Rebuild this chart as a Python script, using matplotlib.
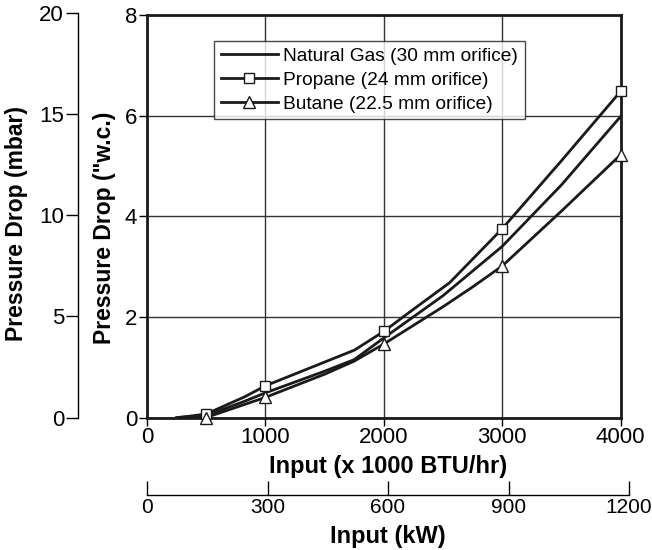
import matplotlib
matplotlib.use("Agg")
import matplotlib.pyplot as plt

plt.rcParams["font.family"] = ["Liberation Sans", "DejaVu Sans"]

# curve data: input (x 1000 BTU/hr) vs pressure drop ("w.c.)
ng_x = [250, 500, 800, 1000, 1500, 1750, 2000, 2500, 3000, 3500, 4000]
ng_y = [0.0, 0.04, 0.30, 0.49, 0.92, 1.15, 1.58, 2.42, 3.4, 4.62, 5.98]

propane_x = [275, 500, 824, 1000, 1753, 2000, 2250, 2557, 3000, 3500, 4000]
propane_y = [0.0, 0.07, 0.41, 0.63, 1.34, 1.71, 2.15, 2.68, 3.75, 5.1, 6.48]

butane_x = [300, 500, 1000, 1500, 1750, 2000, 2500, 2754, 3000, 3500, 4000]
butane_y = [0.0, 0.0, 0.40, 0.86, 1.12, 1.46, 2.2, 2.6, 3.01, 4.1, 5.22]

# marker points
propane_mx = [500, 1000, 2000, 3000, 4000]
propane_my = [0.07, 0.63, 1.71, 3.75, 6.48]
butane_mx = [500, 1000, 2000, 3000, 4000]
butane_my = [0.0, 0.40, 1.46, 3.01, 5.22]

btu_ticks = [0, 1000, 2000, 3000, 4000]
wc_ticks = [0, 2, 4, 6, 8]
mbar_ticks = [0, 5, 10, 15, 20]
kw_ticks = [0, 300, 600, 900, 1200]

W, H = 652, 550
fig = plt.figure(figsize=(W / 100, H / 100), dpi=100)


def fx(px):
    return px / W


def fy(py):
    return 1 - py / H


x0, x1, y0, y1 = 147, 620.5, 417.5, 15
ax = fig.add_axes([fx(x0), fy(y0), fx(x1) - fx(x0), fy(y1) - fy(y0)])

ink = "#1a1a1a"
ax.plot(ng_x, ng_y, color=ink, lw=2.0, label="Natural Gas (30 mm orifice)")
ax.plot(propane_x, propane_y, color=ink, lw=2.0, zorder=3)
ax.plot(propane_mx, propane_my, ls="none", marker="s", ms=7, mfc="white",
        mec=ink, mew=1.0, zorder=4, clip_on=False)
ax.plot(butane_x, butane_y, color=ink, lw=2.0, zorder=3)
ax.plot(butane_mx, butane_my, ls="none", marker="^", ms=8, mfc="white",
        mec=ink, mew=1.0, zorder=4, clip_on=False)

# legend proxies
ax.plot([], [], color=ink, lw=2.0, marker="s", ms=7, mfc="white",
        mec=ink, mew=1.0, label="Propane (24 mm orifice)")
ax.plot([], [], color=ink, lw=2.0, marker="^", ms=8, mfc="white",
        mec=ink, mew=1.0, label="Butane (22.5 mm orifice)")

ax.set_xlim(0, 4000)
ax.set_ylim(0, 8)
ax.set_xticks(btu_ticks)
ax.set_yticks(wc_ticks)
ax.grid(True, color="#333333", lw=1.0)
ax.set_axisbelow(True)
for s in ax.spines.values():
    s.set_linewidth(2.0)
    s.set_color(ink)
ax.tick_params(direction="out", length=6, width=1.0, labelsize=16, pad=1)

leg = ax.legend(loc="upper left",
                bbox_to_anchor=((214 - x0) / (x1 - x0), (y0 - 41) / (y0 - y1)),
                fontsize=13.8, frameon=True, fancybox=False, edgecolor=ink,
                handlelength=3.0, handletextpad=0.25, borderpad=0.35,
                labelspacing=0.33, borderaxespad=0)
leg.get_frame().set_linewidth(1.0)
leg.set_zorder(5)

# outer mbar axis
axm = fig.add_axes([fx(78), fy(y0), 0.001, fy(13) - fy(y0)])
axm.set_ylim(0, 20)
axm.set_yticks(mbar_ticks)
axm.set_xticks([])
for k in ["top", "right", "bottom"]:
    axm.spines[k].set_visible(False)
axm.spines["left"].set_linewidth(1.0)
axm.tick_params(axis="y", direction="out", length=9, width=1.0, labelsize=16, pad=1)
axm.patch.set_visible(False)

# kW axis
kx1 = 629
axk = fig.add_axes([fx(x0), fy(495), fx(kx1) - fx(x0), 0.001])
axk.set_xlim(0, 1200)
axk.set_xticks(kw_ticks)
axk.set_yticks([])
for k in ["top", "right", "left"]:
    axk.spines[k].set_visible(False)
axk.spines["bottom"].set_linewidth(1.0)
axk.tick_params(axis="x", direction="in", length=10, width=1.0, labelsize=15, pad=2)
axk.patch.set_visible(False)

fig.text(fx(388), fy(467), "Input (x 1000 BTU/hr)", fontsize=17, fontweight="bold",
         ha="center", va="center")
fig.text(fx(388), fy(537), "Input (kW)", fontsize=17, fontweight="bold",
         ha="center", va="center")
fig.text(fx(17), fy(223.5), "Pressure Drop (mbar)", fontsize=16.5, fontweight="bold",
         rotation=90, ha="center", va="center")
fig.text(fx(104), fy(228), 'Pressure Drop ("w.c.)', fontsize=16.5, fontweight="bold",
         rotation=90, ha="center", va="center")

fig.savefig("out.png", dpi=100)
